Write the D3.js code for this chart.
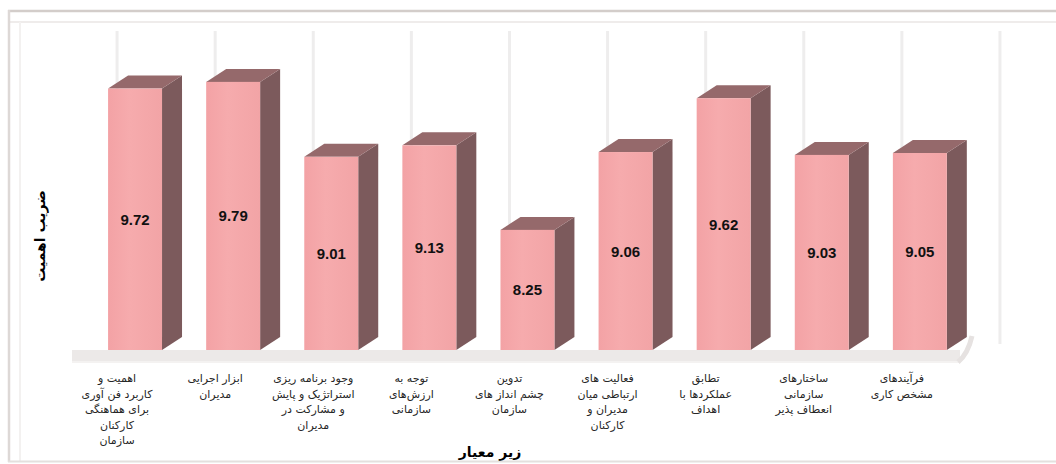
<!DOCTYPE html>
<html>
<head>
<meta charset="utf-8">
<script src="https://cdn.jsdelivr.net/npm/d3@7"></script>
<style>
  html, body { margin: 0; padding: 0; background: #ffffff; }
  svg { display: block; }
</style>
</head>
<body>
<script>
// Sub-criteria (each label broken into its printed lines)
const categories = [
  "اهمیت و\nکاربرد فن آوری\nبرای هماهنگی\nکارکنان\nسازمان",
  "ابزار اجرایی\nمدیران",
  "وجود برنامه ریزی\nاستراتژیک و پایش\nو مشارکت در\nمدیران",
  "توجه به\nارزش‌های\nسازمانی",
  "تدوین\nچشم انداز های\nسازمان",
  "فعالیت های\nارتباطی میان\nمدیران و\nکارکنان",
  "تطابق\nعملکردها با\nاهداف",
  "ساختارهای\nسازمانی\nانعطاف پذیر",
  "فرآیندهای\nمشخص کاری"
];
// Importance coefficient of each sub-criterion
const values = [9.72, 9.79, 9.01, 9.13, 8.25, 9.06, 9.62, 9.03, 9.05];
// Value range shown by the vertical axis
const valueDomain = [7, 10];

const yTitle = "ضریب اهمیت";
const xTitle = "زیر معیار";

const W = 1056, H = 464;
const svg = d3.select("body").append("svg").attr("width", W).attr("height", H);

// frame
svg.append("rect").attr("x", 0).attr("y", 0).attr("width", W).attr("height", H).attr("fill", "#ffffff");
svg.append("line").attr("x1", 8).attr("x2", W).attr("y1", 11).attr("y2", 11)
  .attr("stroke", "#d3cdca").attr("stroke-width", 2.5);
svg.append("line").attr("x1", 10).attr("x2", W).attr("y1", 22).attr("y2", 22)
  .attr("stroke", "#efeceb").attr("stroke-width", 2);
svg.append("line").attr("x1", 9).attr("x2", 9).attr("y1", 10).attr("y2", 462)
  .attr("stroke", "#ddd8d6").attr("stroke-width", 2.5);
svg.append("line").attr("x1", 20).attr("x2", 20).attr("y1", 22).attr("y2", 462)
  .attr("stroke", "#f3f1f0").attr("stroke-width", 2);
svg.append("line").attr("x1", 8).attr("x2", W).attr("y1", 461.5).attr("y2", 461.5)
  .attr("stroke", "#e4e0de").attr("stroke-width", 2);

const base = 350;
const x = d3.scaleBand().domain(categories).range([86, 968.9]).paddingInner(0.45).paddingOuter(0.225);
const y = d3.scaleLinear().domain(valueDomain).range([base, base - 96.1 * (valueDomain[1] - valueDomain[0])]);

const dx = 20, dy = -13;       // 3D depth offset
const bw = x.bandwidth();

// back-wall grid lines
const gridX = categories.map(c => x(c) + 9).concat([x(categories[categories.length - 1]) + 9 + x.step()]);
svg.append("g").selectAll("line").data(gridX).join("line")
  .attr("x1", d => d).attr("x2", d => d)
  .attr("y1", 31).attr("y2", base - 6)
  .attr("stroke", "#eeeded").attr("stroke-width", 3);

// floor
svg.append("rect").attr("x", 72).attr("y", base).attr("width", 888).attr("height", 12)
  .attr("fill", "#ece9e8");
svg.append("line").attr("x1", 72).attr("x2", 960).attr("y1", base + 12).attr("y2", base + 12)
  .attr("stroke", "#f4f2f1").attr("stroke-width", 2);
// right end of the floor rising into the side wall
svg.append("path")
  .attr("d", `M958,${base + 12} Q968,${base + 4} 972,${base - 14}`)
  .attr("fill", "none").attr("stroke", "#e6e2e1").attr("stroke-width", 5);

// bar front gradient
const defs = svg.append("defs");
const grad = defs.append("linearGradient").attr("id", "front").attr("x1", 0).attr("x2", 1).attr("y1", 0).attr("y2", 0);
grad.append("stop").attr("offset", "0%").attr("stop-color", "#f3a2a5");
grad.append("stop").attr("offset", "40%").attr("stop-color", "#f6abad");
grad.append("stop").attr("offset", "100%").attr("stop-color", "#f2a4a6");

const bars = svg.append("g").selectAll("g").data(values).join("g");

// side face
bars.append("path")
  .attr("d", (v, i) => {
    const x0 = x(categories[i]) + bw, t = y(v);
    return `M${x0},${t} L${x0 + dx},${t + dy} L${x0 + dx},${base + dy} L${x0},${base} Z`;
  })
  .attr("fill", "#7c5a5c");

// top face
bars.append("path")
  .attr("d", (v, i) => {
    const x0 = x(categories[i]), t = y(v);
    return `M${x0},${t} L${x0 + dx},${t + dy} L${x0 + bw + dx},${t + dy} L${x0 + bw},${t} Z`;
  })
  .attr("fill", "#95696b");

// front face
bars.append("rect")
  .attr("x", (v, i) => x(categories[i]))
  .attr("y", v => y(v))
  .attr("width", bw)
  .attr("height", v => base - y(v))
  .attr("fill", "url(#front)");

// value labels
bars.append("text")
  .attr("x", (v, i) => x(categories[i]) + bw / 2)
  .attr("y", v => (y(v) + base) / 2)
  .attr("text-anchor", "middle")
  .attr("dominant-baseline", "central")
  .attr("font-family", "Liberation Sans, Arial, sans-serif")
  .attr("font-weight", "bold")
  .attr("font-size", 15)
  .attr("fill", "#111")
  .text(v => v.toFixed(2));

// category labels
const lineH = 15.5;
const labels = svg.append("g").selectAll("text").data(categories).join("text")
  .attr("x", c => x(c) + bw / 2 - 18)
  .attr("y", 382)
  .attr("text-anchor", "middle")
  .attr("font-family", "DejaVu Sans, sans-serif")
  .attr("font-size", 11)
  .attr("fill", "#262626");
labels.each(function (c) {
  const t = d3.select(this);
  c.split("\n").forEach((line, k) => {
    t.append("tspan").attr("x", x(c) + bw / 2 - 18).attr("y", 382 + k * lineH).text(line);
  });
});

// axis titles
svg.append("text")
  .attr("transform", "translate(45,236) rotate(-90)")
  .attr("text-anchor", "middle")
  .attr("font-family", "DejaVu Sans, sans-serif")
  .attr("font-weight", "bold")
  .attr("font-size", 14)
  .attr("fill", "#000")
  .text(yTitle);

svg.append("text")
  .attr("x", 490).attr("y", 457)
  .attr("text-anchor", "middle")
  .attr("font-family", "DejaVu Sans, sans-serif")
  .attr("font-weight", "bold")
  .attr("font-size", 14)
  .attr("fill", "#000")
  .text(xTitle);
</script>
</body>
</html>
